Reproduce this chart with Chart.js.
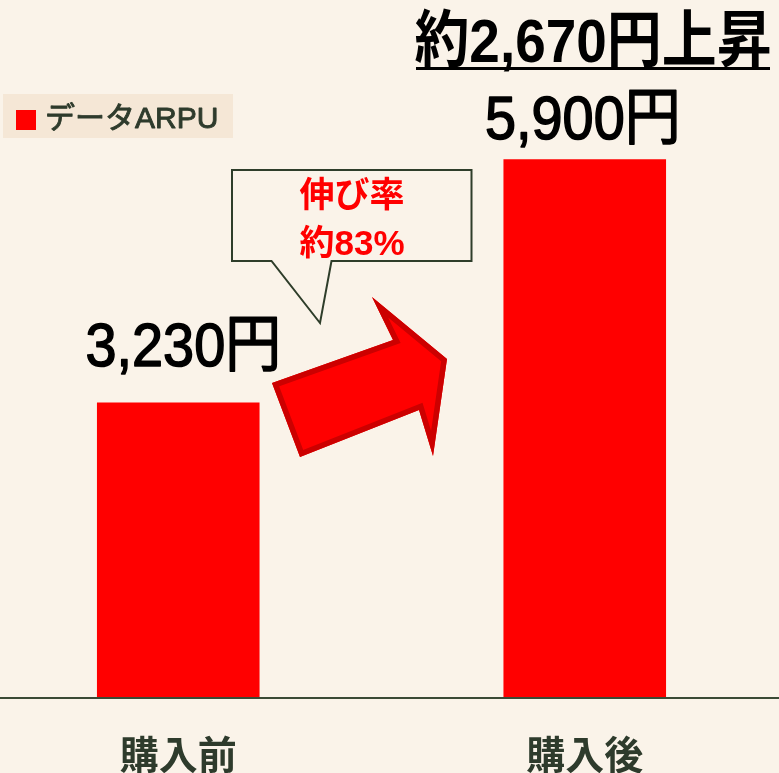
<!DOCTYPE html>
<html><head><meta charset="utf-8">
<script src="https://cdn.jsdelivr.net/npm/chart.js@4"></script>
<style>
html,body{margin:0;padding:0;background:#FAF3E9;overflow:hidden}
#wrap{position:relative;width:779px;height:773px;overflow:hidden;background:#FAF3E9}
#c{position:absolute;left:-25px;top:0}
</style></head><body>
<div id="wrap"><canvas id="c" width="813" height="773"></canvas></div>
<script>
// ---- data ----
const categories = ['購入前', '購入後'];
const arpuValues = [3230, 5900];
const seriesName = 'データARPU';
const valueLabels = ['3,230円', '5,900円'];
const headline = '約2,670円上昇';
const growthLines = ['伸び率', '約83%'];
const yMax = 7000;

// ---- styles ----
const BG = '#FAF3E9';
const DARK = '#2E3B2C';
const RED = '#FF0000';
const OFFSET = 25; // canvas sits 25px left of page

function drawText(ctx, s, x, y, font, color, align, sx, extra) {
  ctx.save();
  ctx.font = font;
  ctx.fillStyle = color;
  ctx.textBaseline = 'alphabetic';
  ctx.textAlign = align;
  ctx.translate(x, y);
  ctx.scale(sx, 1);
  ctx.fillText(s, 0, 0);
  if (extra) {
    ctx.strokeStyle = color;
    ctx.lineWidth = extra;
    ctx.lineJoin = 'round';
    ctx.strokeText(s, 0, 0);
  }
  ctx.restore();
}

const decor = {
  id: 'decor',
  afterDatasetsDraw(chart) {
    const ctx = chart.ctx;
    const ca = chart.chartArea;
    // axis line
    ctx.save();
    ctx.fillStyle = '#3A4A35';
    ctx.fillRect(ca.left, ca.bottom, ca.right - ca.left, 2);
    ctx.restore();

    // category labels
    const xs = chart.scales.x;
    categories.forEach((c, i) => {
      drawText(ctx, c, xs.getPixelForValue(i), 769, "bold 39px 'Noto Sans CJK JP'", DARK, 'center', 1);
    });

    // value labels
    const meta = chart.getDatasetMeta(0);
    const gaps = [37, 20];
    meta.data.forEach((el, i) => {
      drawText(ctx, valueLabels[i], el.x + (i === 0 ? 5 : -2), el.y - gaps[i],
        "62px 'Liberation Sans', 'Noto Sans CJK JP'", '#000000', 'center', 0.9, 1.6);
    });

    // page-coordinate annotations
    ctx.save();
    ctx.translate(OFFSET, 0);

    // headline
    drawText(ctx, headline, 593, 62, "bold 62px 'Liberation Sans', 'Noto Sans CJK JP'", '#000000', 'center', 0.886);
    ctx.fillStyle = '#000000';
    ctx.fillRect(416, 67, 354, 3);

    // legend
    ctx.fillStyle = '#F5E7D6';
    ctx.fillRect(3, 94, 230, 44);
    ctx.fillStyle = RED;
    ctx.fillRect(16, 110, 20, 20);
    drawText(ctx, chart.data.datasets[0].label, 45, 128, "30px 'Liberation Sans', 'Noto Sans CJK JP'", DARK, 'left', 1, 0.9);

    // callout
    ctx.beginPath();
    ctx.moveTo(232, 170);
    ctx.lineTo(471.5, 170);
    ctx.lineTo(471.5, 261);
    ctx.lineTo(331.5, 261);
    ctx.lineTo(320, 323);
    ctx.lineTo(271.5, 261);
    ctx.lineTo(232, 261);
    ctx.closePath();
    ctx.fillStyle = BG;
    ctx.fill();
    ctx.lineWidth = 2;
    ctx.strokeStyle = '#2E3D2A';
    ctx.lineJoin = 'miter';
    ctx.stroke();
    drawText(ctx, growthLines[0], 352, 207, "bold 35px 'Noto Sans CJK JP'", RED, 'center', 1);
    drawText(ctx, growthLines[1], 352, 255, "bold 35px 'Liberation Sans', 'Noto Sans CJK JP'", RED, 'center', 1);

    // arrow
    const pts = [[300, 457], [272, 383], [393, 340], [372, 297], [447, 359], [433, 456], [419, 410]];
    ctx.beginPath();
    pts.forEach((p, i) => i ? ctx.lineTo(p[0], p[1]) : ctx.moveTo(p[0], p[1]));
    ctx.closePath();
    ctx.fillStyle = RED;
    ctx.fill();
    ctx.save();
    ctx.clip();
    ctx.lineWidth = 11;
    ctx.strokeStyle = '#CC0000';
    ctx.lineJoin = 'miter';
    ctx.stroke();
    ctx.restore();

    ctx.restore();
  }
};

new Chart(document.getElementById('c'), {
  type: 'bar',
  data: {
    labels: categories,
    datasets: [{
      label: seriesName,
      data: arpuValues,
      backgroundColor: RED,
      borderWidth: 0,
      categoryPercentage: 1,
      barPercentage: 0.4
    }]
  },
  options: {
    responsive: false,
    animation: false,
    devicePixelRatio: 1,
    layout: { padding: { top: 59, bottom: 76, left: 0, right: 0 } },
    plugins: { legend: { display: false }, tooltip: { enabled: false } },
    scales: {
      x: { display: false },
      y: { display: false, min: 0, max: yMax }
    }
  },
  plugins: [decor]
});
</script>
</body></html>
